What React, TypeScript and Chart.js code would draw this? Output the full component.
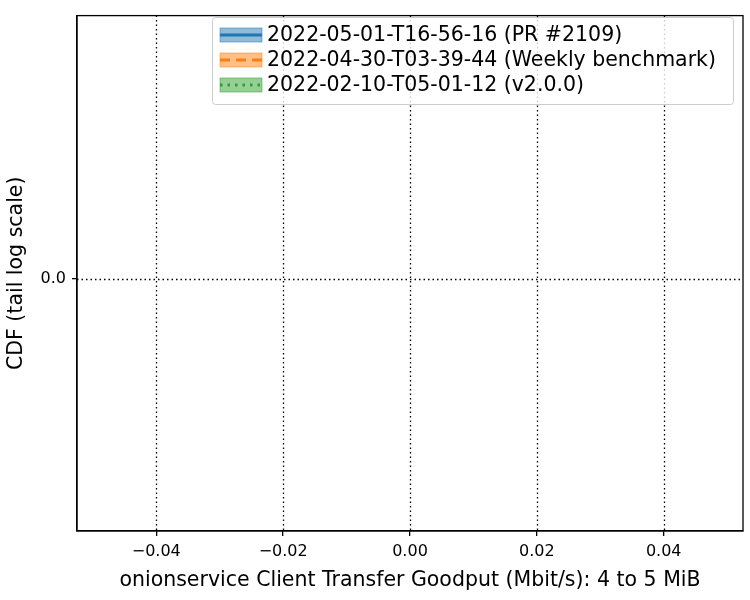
import { useEffect, useRef } from "react"
import { Chart, registerables, type Plugin } from "chart.js"

Chart.register(...registerables)

const seriesLabels = [
  "2022-05-01-T16-56-16 (PR #2109)",
  "2022-04-30-T03-39-44 (Weekly benchmark)",
  "2022-02-10-T05-01-12 (v2.0.0)",
]
const seriesColors = ["31, 119, 180", "255, 127, 14", "44, 160, 44"]
const seriesDash = [[], [10, 6], [2.5, 5]]
const xTicks = [-0.04, -0.02, 0, 0.02, 0.04]
const yTicks = [0]

const FONT = "'DejaVu Sans', sans-serif"

const legendPlugin: Plugin = {
  id: "boxLegend",
  afterDraw(chart) {
    const ctx = chart.ctx
    const x0 = 212, y0 = 17, w = 521, h = 87
    ctx.save()
    ctx.fillStyle = "rgba(255,255,255,0.8)"
    ctx.strokeStyle = "#cccccc"
    ctx.lineWidth = 1
    ctx.beginPath()
    ctx.roundRect(x0 + 0.5, y0 + 0.5, w, h, 3)
    ctx.fill()
    ctx.stroke()
    ctx.font = `20.5px ${FONT}`
    ctx.textBaseline = "middle"
    chart.data.datasets.forEach((ds, i) => {
      const cy = 35 + i * 25
      const c = seriesColors[i]
      ctx.fillStyle = `rgba(${c},0.5)`
      ctx.strokeStyle = `rgba(${c},0.5)`
      ctx.fillRect(220, cy - 7, 42, 14)
      ctx.strokeRect(220, cy - 7, 42, 14)
      ctx.strokeStyle = `rgb(${c})`
      ctx.lineWidth = 3
      ctx.setLineDash(seriesDash[i])
      ctx.beginPath()
      ctx.moveTo(220, cy)
      ctx.lineTo(262, cy)
      ctx.stroke()
      ctx.setLineDash([])
      ctx.lineWidth = 1
      ctx.fillStyle = "#000"
      ctx.fillText(String(ds.label), 267, cy + 1)
    })
    ctx.restore()
  },
}

export default function App() {
  const ref = useRef<HTMLCanvasElement>(null)
  useEffect(() => {
    document.body.style.margin = "0"
    if (!ref.current) return
    const grid = {
      color: "#000",
      lineWidth: 1.3,
      tickColor: "#000",
      tickLength: 5,
      drawOnChartArea: false,
    }
    const chart = new Chart(ref.current, {
      type: "line",
      data: {
        datasets: seriesLabels.map((label, i) => ({
          label,
          data: [] as { x: number; y: number }[],
          borderColor: `rgb(${seriesColors[i]})`,
          borderDash: seriesDash[i],
        })),
      },
      options: {
        animation: false,
        responsive: false,
        layout: { padding: { left: 0, top: 9, right: 7, bottom: 0 } },
        plugins: { legend: { display: false }, tooltip: { enabled: false } },
        scales: {
          x: {
            type: "linear",
            min: -0.0525,
            max: 0.0525,
            border: { color: "#000", width: 1.3 },
            grid: grid as any,
            afterBuildTicks: (s) => { s.ticks = xTicks.map((value) => ({ value })) },
            afterFit: (s) => { s.height = 69 },
            ticks: {
              color: "#000",
              font: { family: FONT, size: 16 },
              padding: 6,
              callback: (v) => Number(v).toFixed(2).replace("-", "\u2212"),
            },
            title: {
              display: true,
              text: "onionservice Client Transfer Goodput (Mbit/s): 4 to 5 MiB",
              color: "#000",
              font: { family: FONT, size: 20.5 },
              padding: { top: 4, bottom: 7 },
            },
          },
          y: {
            type: "linear",
            min: -0.96,
            max: 1,
            border: { color: "#000", width: 1.3 },
            grid: grid as any,
            afterBuildTicks: (s) => { s.ticks = yTicks.map((value) => ({ value })) },
            afterFit: (s) => { s.width = 77 },
            ticks: {
              color: "#000",
              font: { family: FONT, size: 16 },
              padding: 6,
              callback: (v) => Number(v).toFixed(1),
            },
            title: {
              display: true,
              text: "CDF (tail log scale)",
              color: "#000",
              font: { family: FONT, size: 20.5 },
              padding: { top: 4, bottom: 4 },
            },
          },
        },
      },
      plugins: [
        {
          id: "dotGrid",
          beforeDatasetsDraw(c) {
            // dotted gridlines and full frame
            const { ctx, chartArea: a } = c
            ctx.save()
            ctx.strokeStyle = "#000"
            ctx.lineWidth = 1.3
            ctx.setLineDash([1.5, 3])
            const xs = c.scales.x, ys = c.scales.y
            xTicks.forEach((t) => {
              const px = Math.round(xs.getPixelForValue(t)) + 0.5
              ctx.beginPath(); ctx.moveTo(px, a.top); ctx.lineTo(px, a.bottom); ctx.stroke()
            })
            yTicks.forEach((t) => {
              const py = Math.round(ys.getPixelForValue(t)) + 0.5
              ctx.beginPath(); ctx.moveTo(a.left, py); ctx.lineTo(a.right, py); ctx.stroke()
            })
            ctx.setLineDash([])
            ctx.strokeRect(a.left, a.top, a.right - a.left, a.bottom - a.top)
            ctx.restore()
          },
        },
        legendPlugin,
      ],
    })
    return () => chart.destroy()
  }, [])
  return <canvas ref={ref} width={750} height={600} style={{ display: "block" }} />
}
